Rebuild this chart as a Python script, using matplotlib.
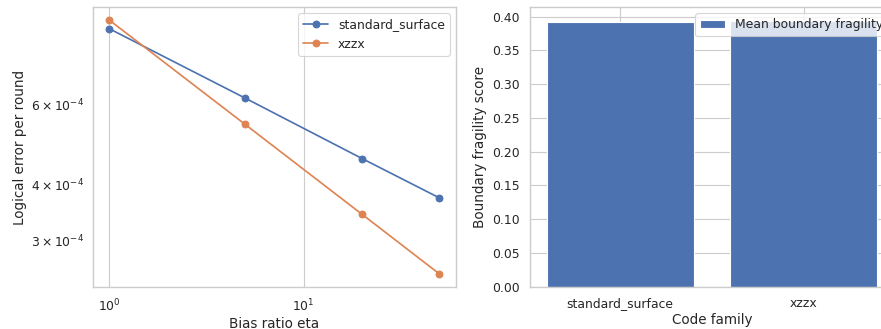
import matplotlib
matplotlib.use("Agg")
import matplotlib.pyplot as plt
import seaborn as sns

sns.set_theme(style="whitegrid", context="notebook")
plt.rcParams['font.family'] = ['DejaVu Sans']

# data
eta = [1, 5, 20, 50]
standard_surface = [8.85e-4, 6.21e-4, 4.56e-4, 3.73e-4]
xzzx = [9.25e-4, 5.43e-4, 3.43e-4, 2.53e-4]

families = ["standard_surface", "xzzx"]
fragility = [0.392, 0.394]

DPI = 81
fig = plt.figure(figsize=(881 / DPI, 329 / DPI), dpi=DPI)
ax1 = fig.add_axes([0.1052, 0.1286, 0.4124, 0.8492])
ax2 = fig.add_axes([0.6016, 0.1286, 0.4132, 0.8492])

ax1.plot(eta, standard_surface, marker="o", label="standard_surface")
ax1.plot(eta, xzzx, marker="o", label="xzzx")
ax1.set_xscale("log")
ax1.set_yscale("log")
ax1.set_xlabel("Bias ratio eta", labelpad=2.5)
ax1.set_ylabel("Logical error per round")
ax1.legend(loc="upper right")

ax2.bar(families, fragility, label="Mean boundary fragility")
ax2.set_xlabel("Code family", labelpad=2.5)
ax2.set_ylabel("Boundary fragility score")
ax2.legend(loc="upper right")

fig.savefig("out.png", dpi=DPI)
